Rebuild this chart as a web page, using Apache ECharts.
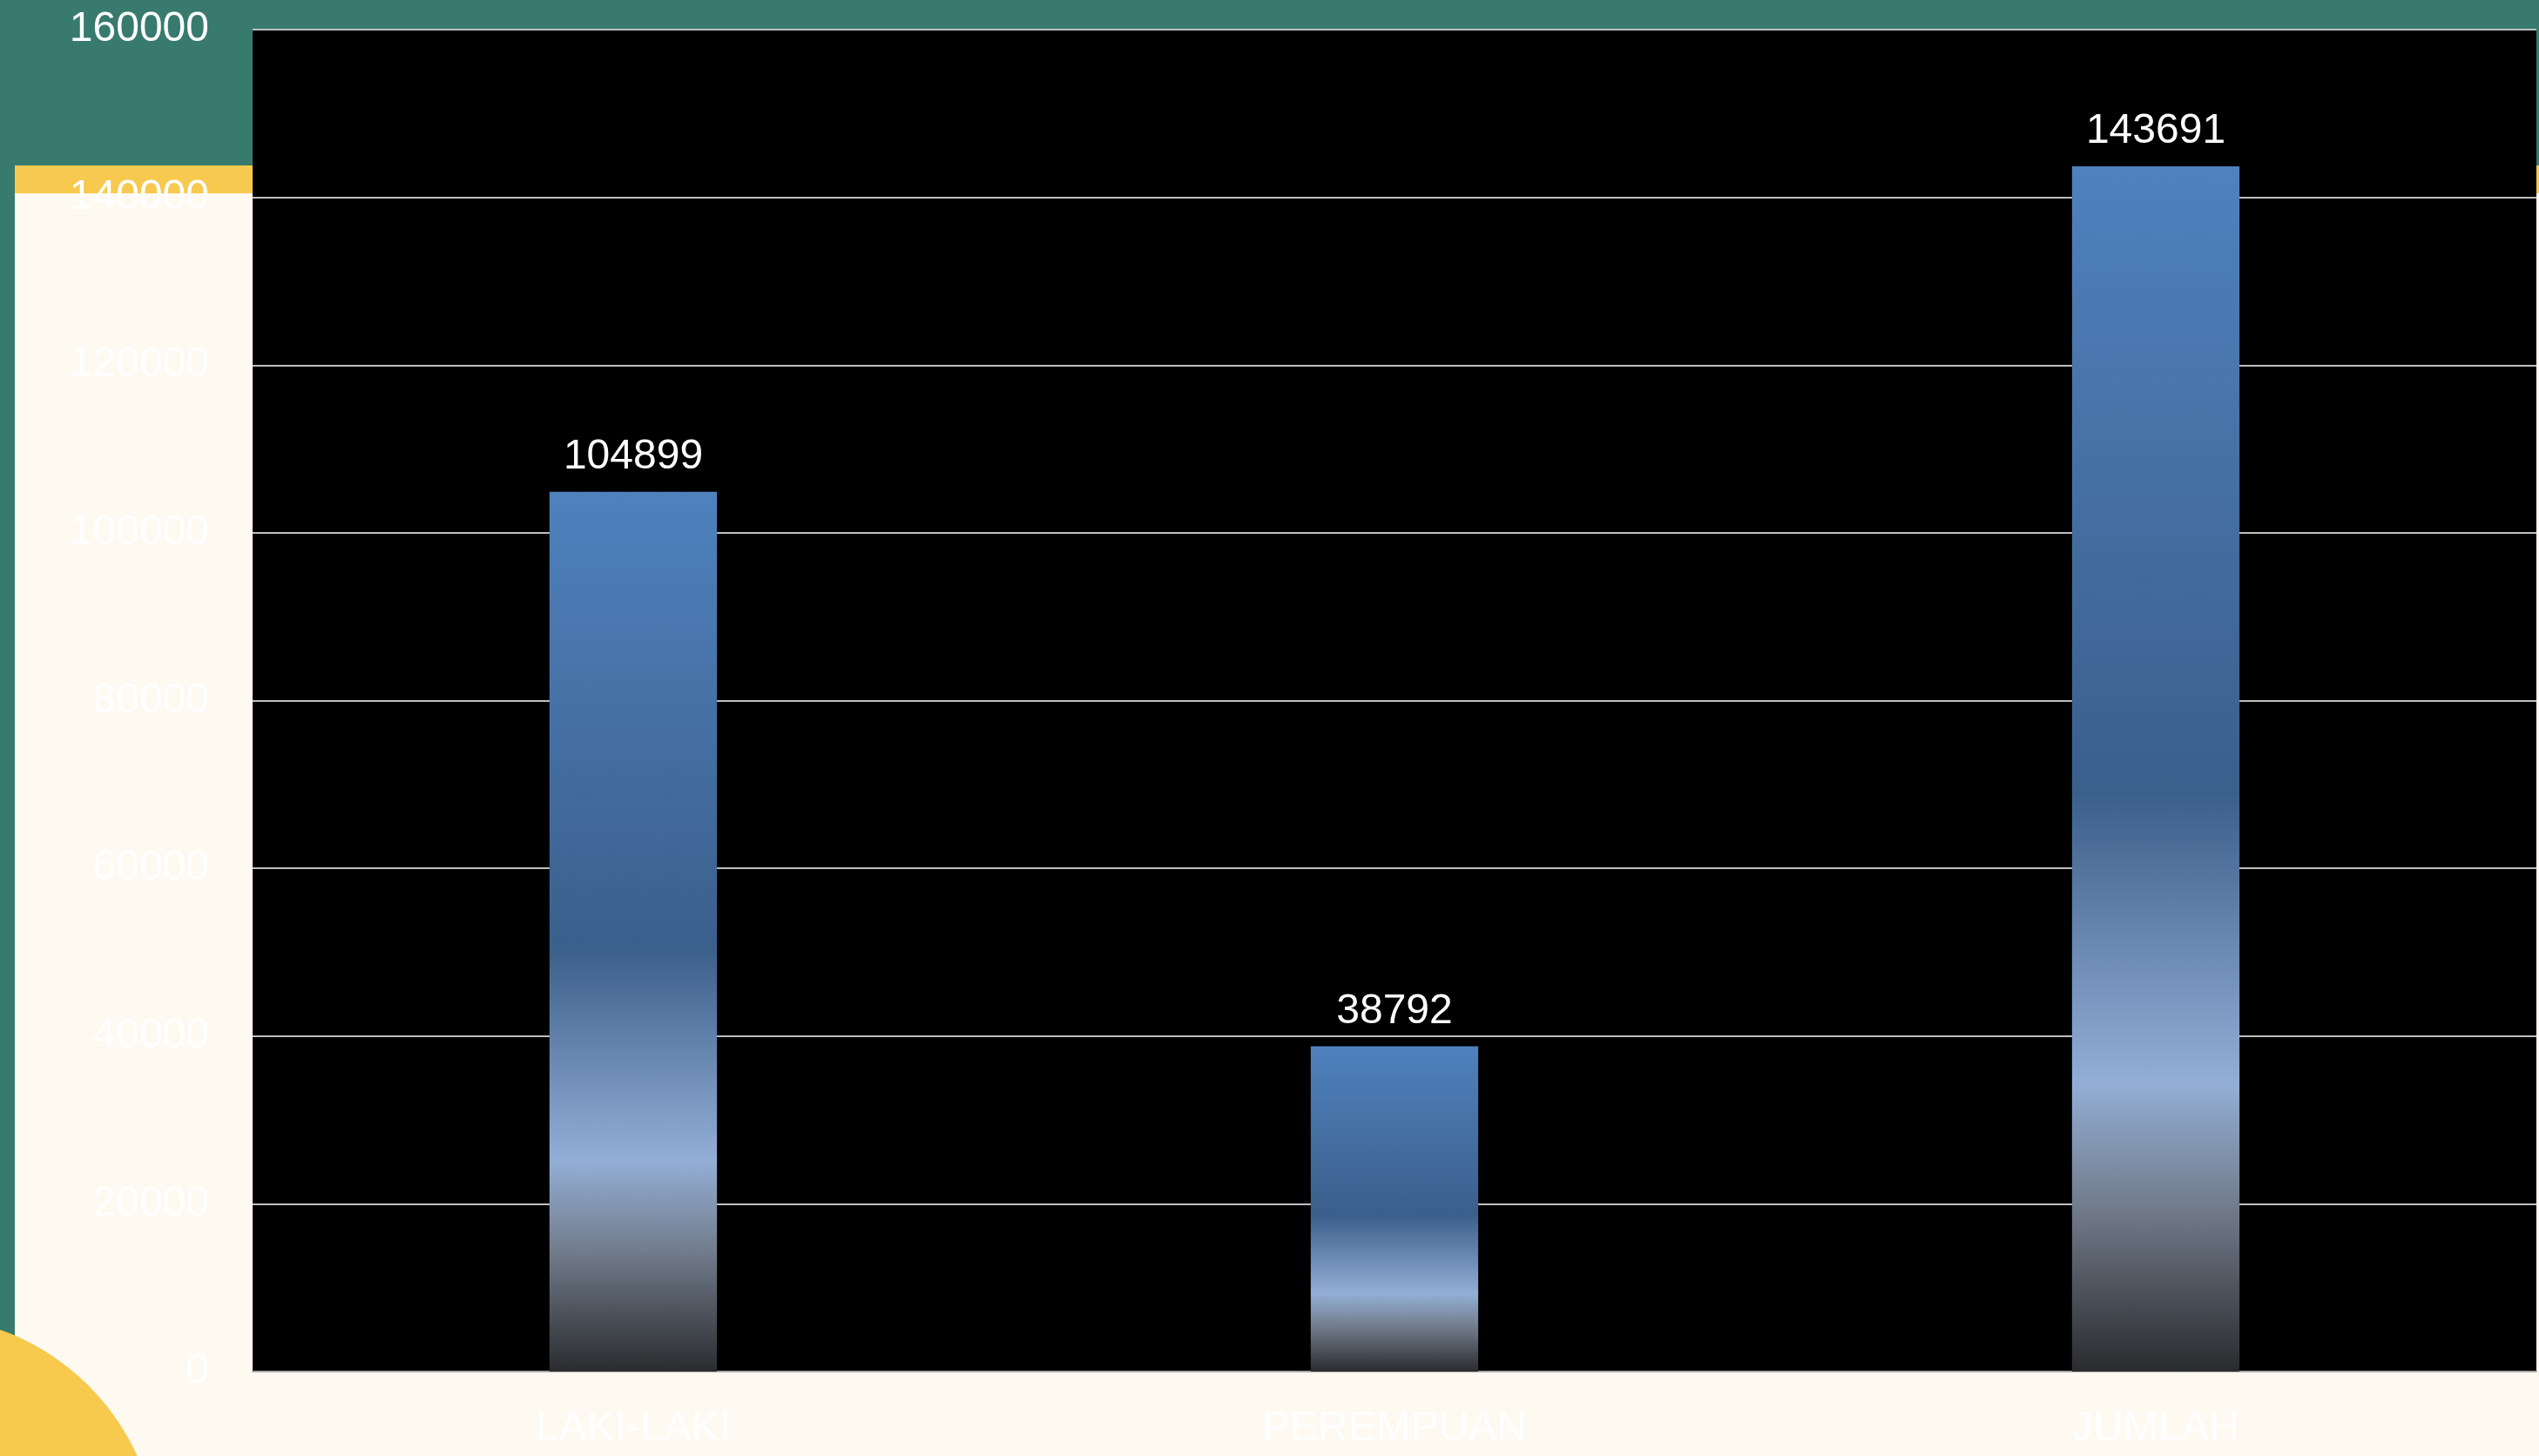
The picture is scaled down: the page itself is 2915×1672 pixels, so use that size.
<!DOCTYPE html>
<html>
<head>
<meta charset="utf-8">
<script src="https://cdn.jsdelivr.net/npm/echarts@6/dist/echarts.min.js"></script>
<style>
html,body{margin:0;padding:0;background:#387B6E;}
#c{width:2915px;height:1672px;}
</style>
</head>
<body>
<div id="c"></div>
<script>
const categories = ['LAKI-LAKI', 'PEREMPUAN', 'JUMLAH'];
const values = [104899, 38792, 143691];
const yTicks = [0, 20000, 40000, 60000, 80000, 100000, 120000, 140000, 160000];

const chart = echarts.init(document.getElementById('c'));
const barGradient = new echarts.graphic.LinearGradient(0, 0, 0, 1, [
  {offset: 0, color: '#4F81BD'},
  {offset: 0.52, color: '#3B5F8B'},
  {offset: 0.76, color: '#93AED6'},
  {offset: 0.86, color: '#737E8E'},
  {offset: 1, color: '#2A2B2E'}
]);
chart.setOption({
  backgroundColor: '#387B6E',
  animation: false,
  graphic: [
    {type: 'rect', z: -10, shape: {x: 17, y: 190, width: 2898, height: 32}, style: {fill: '#F7CA4F'}},
    {type: 'rect', z: -10, shape: {x: 17, y: 222, width: 2898, height: 1450}, style: {fill: '#FEF9F1'}},
    {type: 'circle', z: -9, shape: {cx: -92, cy: 1785, r: 274}, style: {fill: '#F7CA4D'}}
  ],
  grid: {
    left: 290, top: 34, right: 3, bottom: 97,
    show: true, backgroundColor: '#000000', borderWidth: 0
  },
  xAxis: {
    type: 'category',
    data: categories,
    axisTick: {show: false},
    axisLine: {show: true, lineStyle: {color: '#A6A6A6', width: 2}},
    axisLabel: {color: '#FFFFFF', fontFamily: 'Liberation Sans', fontSize: 48, margin: 42}
  },
  yAxis: {
    type: 'value',
    min: yTicks[0],
    max: yTicks[yTicks.length - 1],
    interval: yTicks[1] - yTicks[0],
    axisLine: {show: false},
    axisTick: {show: false},
    splitLine: {lineStyle: {color: '#BFBFBF', width: 2}},
    axisLabel: {color: '#FFFFFF', fontFamily: 'Liberation Sans', fontSize: 48, margin: 50,
      formatter: v => String(v)}
  },
  series: [{
    type: 'bar',
    data: values,
    barWidth: '22%',
    itemStyle: {color: barGradient},
    label: {
      show: true, position: 'top', distance: 16,
      color: '#FFFFFF', fontFamily: 'Liberation Sans', fontSize: 48,
      formatter: p => String(p.value)
    }
  }]
});
</script>
</body>
</html>
